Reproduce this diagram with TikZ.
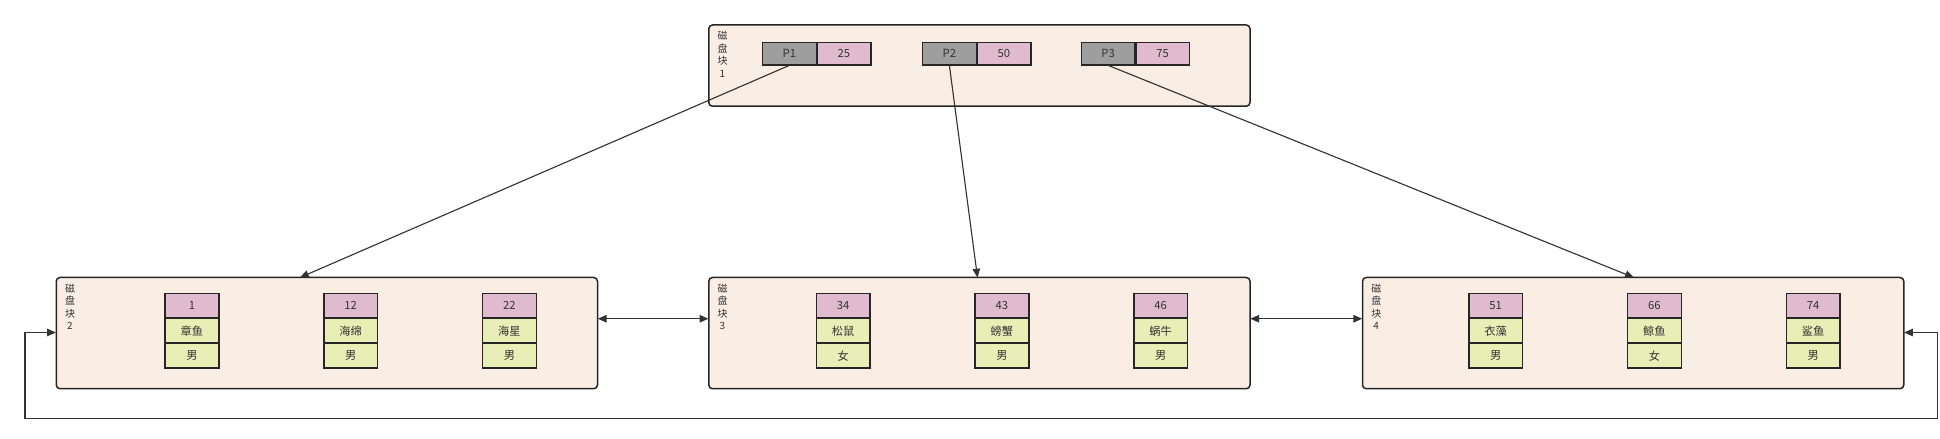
\documentclass[tikz,border=0pt]{standalone}
\usepackage{fontspec}
\setmainfont{Noto Sans CJK SC}
\usetikzlibrary{positioning,arrows.meta}
\definecolor{blockfill}{HTML}{FAEEE4}
\definecolor{keyfill}{HTML}{E0BBCE}
\definecolor{ptrfill}{HTML}{9E9E9E}
\definecolor{datafill}{HTML}{E8EEB5}
\tikzset{
  block/.style={draw=black!85,line width=0.6pt,fill=blockfill,rounded corners=1.5pt,minimum width=433pt,minimum height=65pt,inner sep=0pt},
  bigblock/.style={block,minimum height=89pt},
  cell/.style={draw=black!85,line width=0.6pt,minimum width=43pt,minimum height=19.5pt,inner sep=0pt,font=\fontsize{9}{9}\selectfont,text=black!80},
  ptr/.style={cell,fill=ptrfill},
  key/.style={cell,fill=keyfill},
  data/.style={cell,fill=datafill},
  tag/.style={align=center,font=\fontsize{8}{10}\selectfont,text=black!80,anchor=north,inner sep=0pt},
  link/.style={-{Triangle[length=3.5pt,width=3pt]},line width=0.45pt,black!80},
  both/.style={link,{Triangle[length=3.5pt,width=3pt]}-{Triangle[length=3.5pt,width=3pt]}},
}
\begin{document}
\begin{tikzpicture}[x=1pt,y=-1pt,scale=0.5,every node/.append style={transform shape}]
\useasboundingbox (0,0) rectangle (1552,351.2);
% root block
\node[block] (b1) at (783.5,52.5) {};
\node[tag] at (578,25) {磁\\盘\\块\\1};
\node[ptr,minimum height=18pt] (p1) at (631.5,43) {P1};
\node[key,minimum height=18pt,right=0pt of p1] (k25) {25};
\node[ptr,minimum height=18pt] (p2) at (759.5,43) {P2};
\node[key,minimum height=18pt,right=0pt of p2] (k50) {50};
\node[ptr,minimum height=18pt] (p3) at (886.5,43) {P3};
\node[key,minimum height=18pt,right=0pt of p3] (k75) {75};
% leaf blocks
\node[bigblock] (b2) at (261.5,266.5) {};
\node[bigblock] (b3) at (783.5,266.5) {};
\node[bigblock] (b4) at (1306.5,266.5) {};
\node[tag] at (56,227) {磁\\盘\\块\\2};
\node[tag] at (578,227) {磁\\盘\\块\\3};
\node[tag] at (1101,227) {磁\\盘\\块\\4};
\foreach \x/\k/\n/\s/\id in {153.5/1/章鱼/男/a, 280.5/12/海绵/男/b, 407.5/22/海星/男/c,
  674.5/34/松鼠/女/d, 801.5/43/螃蟹/男/e, 928.5/46/蜗牛/男/f,
  1196.5/51/衣藻/男/g, 1323.5/66/鲸鱼/女/h, 1450.5/74/鲨鱼/男/i} {
  \node[key] (k\id) at (\x,244.5) {\k};
  \node[data,below=0pt of k\id] (n\id) {\n};
  \node[data,below=0pt of n\id] (s\id) {\s};
}
% pointers
\coordinate (t2) at (240,222);
\coordinate (t3) at (782,222);
\coordinate (t4) at (1307,222);
\draw[link] (p1.south) -- (t2);
\draw[link] (p2.south) -- (t3);
\draw[link] (p3.south) -- (t4);
\coordinate (m) at (0,255);
\draw[both] (b2.east |- m) -- (b3.west |- m);
\draw[both] (b3.east |- m) -- (b4.west |- m);
\coordinate (r) at (1550,266);
\coordinate (rb) at (1550,335);
\coordinate (l) at (20,266);
\draw[both] (b4.east |- r) -- (r) -- (rb) -| (l) -- (b2.west |- l);
\node[text=black!25,font=\fontsize{11}{11}\selectfont,anchor=east] at (1935,420) {@稀土掘金技术社区};
\end{tikzpicture}
\end{document}
